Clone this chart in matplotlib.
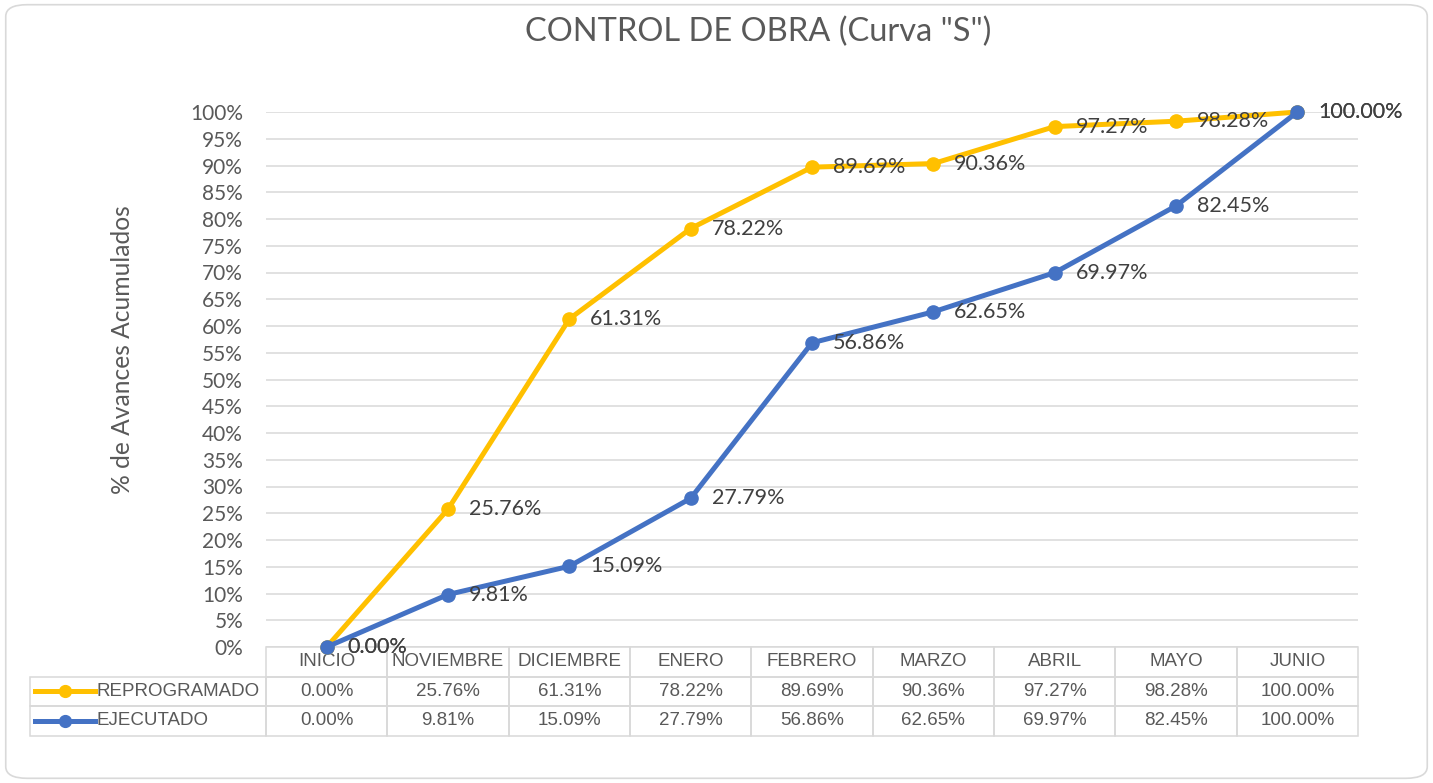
import matplotlib
matplotlib.use("Agg")
import matplotlib.pyplot as plt
from matplotlib.patches import FancyBboxPatch

meses = ["INICIO", "NOVIEMBRE", "DICIEMBRE", "ENERO", "FEBRERO",
         "MARZO", "ABRIL", "MAYO", "JUNIO"]
reprogramado = [0.00, 25.76, 61.31, 78.22, 89.69, 90.36, 97.27, 98.28, 100.00]
ejecutado = [0.00, 9.81, 15.09, 27.79, 56.86, 62.65, 69.97, 82.45, 100.00]
series = ["REPROGRAMADO", "EJECUTADO"]
colores = ["#FFC000", "#4472C4"]
gris = "#595959"
linea = "#D9D9D9"

W, H = 1433, 783
fig = plt.figure(figsize=(W / 100, H / 100), dpi=100)
# borde redondeado del grafico
fig.patches.append(FancyBboxPatch((0.004, 0.006), 0.992, 0.988,
                                  boxstyle="round,pad=0,rounding_size=0.015",
                                  transform=fig.transFigure, fc="white",
                                  ec=linea, lw=1.2, zorder=-1))

# area de trazado
L, R, T, B = 266, 1358, 112, 647
ax = fig.add_axes([L / W, 1 - B / H, (R - L) / W, (B - T) / H])
ax.set_facecolor("none")

x = list(range(len(meses)))
for vals, nom, c in zip([reprogramado, ejecutado], series, colores):
    ax.plot(x, [v / 100 for v in vals], color=c, lw=3.6, marker="o",
            ms=9.5, zorder=3, clip_on=False)
    for xi, v in zip(x, vals):
        ax.annotate(f"{v:.2f}%", (xi, v / 100), xytext=(15, 0),
                    textcoords="offset points", ha="left", va="center",
                    fontsize=15.5, color="#404040", family="Lato",
                    zorder=4, annotation_clip=False)

ax.set_xlim(-0.5, len(meses) - 0.5)
ax.set_ylim(0, 1)
yt = [i / 20 for i in range(21)]
ax.set_yticks(yt)
ax.set_yticklabels([f"{int(round(t * 100))}%" for t in yt],
                   fontsize=15, color=gris, family="Lato")
ax.tick_params(axis="y", length=0, pad=16.5)
ax.set_xticks([])
ax.grid(axis="y", color=linea, lw=1.1, zorder=0)
for s in ax.spines.values():
    s.set_visible(False)

fig.text(123 / W, 1 - 350 / H, "% de Avances Acumulados", rotation=90,
         ha="center", va="center", fontsize=17.7, color=gris, family="Lato")
fig.text(758 / W, 1 - 32 / H, 'CONTROL DE OBRA (Curva "S")', ha="center",
         va="center", fontsize=23.5, color=gris, family="Lato")

# tabla de datos
axw = R - L
axh = B - T
row_h = 29.5
leg_w = 236
col_w = axw / len(meses)
celdas = [[series[0]] + [f"{v:.2f}%" for v in reprogramado],
          [series[1]] + [f"{v:.2f}%" for v in ejecutado]]
tab = ax.table(cellText=celdas, colLabels=[""] + meses,
               colWidths=[leg_w] + [col_w] * len(meses),
               cellLoc="center",
               bbox=[-leg_w / axw, -3 * row_h / axh, 1 + leg_w / axw, 3 * row_h / axh])
tab.auto_set_font_size(False)
for (r, c), cell in tab.get_celld().items():
    cell.set_edgecolor(linea)
    cell.set_linewidth(1.1)
    cell.set_facecolor("none")
    cell.get_text().set_color(gris)
    cell.get_text().set_fontsize(13.5)
    cell.get_text().set_family("Liberation Sans")
    if r == 0 and c == 0:
        cell.visible_edges = "open"
    if c == 0 and r > 0:
        cell.get_text().set_ha("left")
        cell.PAD = 67 / leg_w

# claves de la leyenda en la tabla
for i, c in enumerate(colores):
    yk = -(1.5 + i) * row_h / axh
    ax.plot([(35 - L) / axw, (95 - L) / axw], [yk, yk], color=c, lw=3.6,
            transform=ax.transAxes, clip_on=False)
    ax.plot([(65 - L) / axw], [yk], marker="o", ms=8.5, color=c,
            transform=ax.transAxes, clip_on=False)

fig.savefig("out.png", dpi=100)
